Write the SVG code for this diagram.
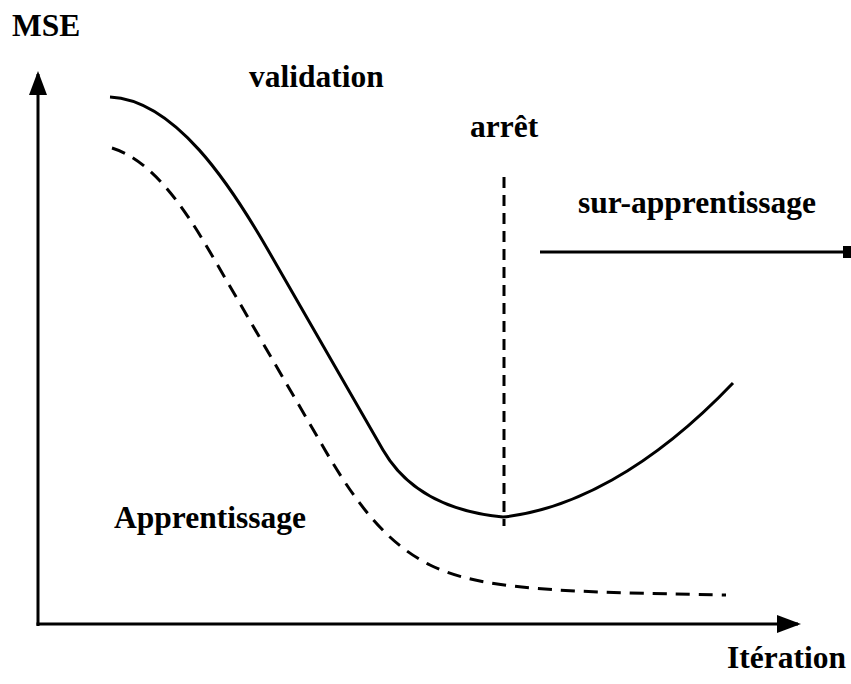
<svg xmlns="http://www.w3.org/2000/svg" width="851" height="684" viewBox="0 0 851 684">
<style>
text{font-family:"Liberation Serif","Times New Roman",Times,"DejaVu Serif",serif;font-weight:bold;font-size:31.5px;fill:#000}
.ln{fill:none;stroke:#000;stroke-width:3}
</style>
<defs>
<marker id="ah" markerWidth="8" markerHeight="6" refX="7" refY="3" orient="auto" markerUnits="strokeWidth"><path d="M0,0 L8,3 L0,6 Z" fill="#000"/></marker>
<marker id="sq" markerWidth="3" markerHeight="4" refX="1" refY="2" orient="auto" markerUnits="strokeWidth"><path d="M0,0 L3,0 L3,4 L0,4 Z" fill="#000"/></marker>
</defs>
<rect width="851" height="684" fill="#fff"/>
<g id="axes">
<line class="ln" x1="38" y1="626" x2="38" y2="74" marker-end="url(#ah)"/>
<line class="ln" x1="36.5" y1="624" x2="798" y2="624" marker-end="url(#ah)"/>
</g>
<g id="connectors">
<path id="validation-curve" class="ln" d="M110,97 C175,100 230,184 268,250 L383,450 C398,476 430,510 503,517 C570,510 650,470 733,383"/>
<path id="apprentissage-curve" class="ln" stroke-dasharray="14,9" d="M112,148 C150,160 181,202 210,252 L325,450 C360,510 390,545 430,565 C480,590 560,592 726,595"/>
<line id="arret-line" class="ln" stroke-dasharray="11,7" x1="504" y1="177" x2="504" y2="526"/>
<line id="over-arrow" class="ln" x1="540" y1="252" x2="846" y2="252" marker-end="url(#sq)"/>
</g>
<g id="labels">
<text x="12" y="36">MSE</text>
<text x="249" y="87">validation</text>
<text x="470" y="137">arrêt</text>
<text x="578" y="213">sur-apprentissage</text>
<text x="114" y="528">Apprentissage</text>
<text x="727" y="668">Itération</text>
</g>
</svg>
